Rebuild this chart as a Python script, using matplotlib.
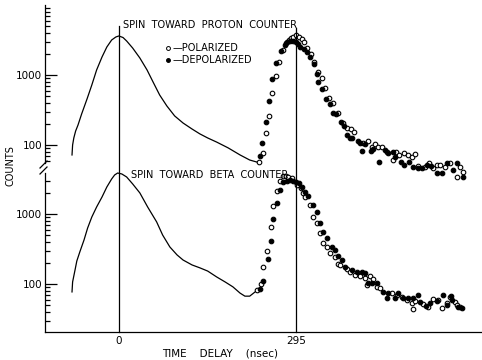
import matplotlib.pyplot as plt
from matplotlib.lines import Line2D

# time axis (nsec) and counts

# smooth prompt curves, left side
curve_t_top = [-78, -77, -75, -72, -68, -62, -53, -45, -37, -28, -20, -12, -5, 0, 7, 13,
               23, 35, 47, 57, 68, 80, 93, 107, 122, 135, 148, 163, 182, 202, 218, 230]
curve_top = [72, 100, 126, 158, 193, 277, 454, 720, 1180, 1810, 2510, 3160, 3490, 3610, 3430, 3060,
             2430, 1750, 1180, 795, 518, 361, 260, 206, 169, 144, 126, 110, 91, 72, 61, 57]

curve_t_bot = [-78, -77, -73, -70, -65, -58, -52, -45, -37, -28, -20, -12, -7, -2, 5, 13, 23,
               35, 48, 63, 73, 85, 97, 107, 122, 135, 148, 163, 177, 190, 202, 210, 218, 227]
curve_bot = [77, 107, 158, 213, 287, 425, 630, 906, 1260, 1750, 2430, 3160, 3610, 3850, 3730, 3380, 2690,
             2000, 1260, 770, 500, 338, 260, 220, 187, 170, 153, 126, 107, 91, 74, 67, 67, 77]

# spin toward proton counter
pol_t_top = [233, 240, 245, 250, 255, 262, 267, 273, 278, 283, 287, 290, 295, 300, 305, 308,
             313, 320, 325, 332, 338, 343, 350, 357, 365, 373, 380, 387, 392, 407, 415, 422,
             427, 432, 438, 447, 457, 462, 467, 475, 482, 488, 493, 498, 510, 517, 523, 530,
             535, 543, 552, 563, 568, 573]
pol_top = [58, 77, 148, 260, 553, 968, 1530, 2280, 2870, 3160, 3380, 3490, 3730, 3490, 3270, 2960,
           2430, 2000, 1530, 1100, 906, 652, 469, 398, 287, 206, 175, 169, 153, 107, 114, 94,
           103, 94, 94, 79, 61, 79, 72, 77, 72, 67, 74, 50, 49, 55, 47, 52,
           52, 49, 55, 35, 49, 41]

dep_t_top = [235, 238, 245, 250, 255, 262, 270, 277, 280, 285, 290, 295, 298, 302, 308, 313,
             318, 325, 330, 332, 338, 345, 352, 357, 362, 370, 375, 380, 385, 388, 398, 402,
             405, 410, 420, 423, 433, 443, 448, 457, 460, 470, 475, 483, 490, 498, 505, 513,
             520, 530, 538, 547, 557, 563, 573]
dep_top = [70, 107, 213, 425, 877, 1480, 2200, 2680, 2960, 3060, 3060, 2960, 2770, 2510, 2350, 2130,
           1810, 1440, 1030, 795, 631, 454, 385, 287, 277, 213, 187, 139, 126, 126, 114, 107,
           82, 103, 82, 88, 57, 85, 77, 79, 67, 57, 52, 57, 49, 47, 47, 52,
           50, 40, 40, 55, 44, 55, 35]

# spin toward beta counter
pol_t_bot = [230, 237, 240, 247, 253, 257, 263, 268, 273, 278, 282, 288, 297, 303, 307, 310,
             318, 323, 330, 335, 340, 347, 352, 360, 365, 368, 380, 385, 393, 402, 410, 413,
             418, 423, 430, 435, 455, 463, 472, 480, 488, 490, 493, 507, 515, 523, 532, 538,
             547, 552, 560, 563, 568]
pol_bot = [82, 100, 175, 296, 652, 1300, 2130, 2960, 3490, 3490, 3380, 3270, 2600, 2350, 2000, 1750,
           1340, 906, 744, 535, 385, 338, 277, 243, 193, 187, 164, 148, 134, 130, 122, 97,
           130, 118, 91, 88, 74, 70, 65, 59, 54, 44, 57, 52, 47, 61, 59, 45,
           54, 65, 55, 50, 47]

dep_t_bot = [235, 240, 248, 253, 257, 263, 268, 273, 280, 285, 290, 295, 300, 305, 310, 315,
             323, 330, 335, 340, 347, 355, 360, 365, 372, 377, 388, 397, 405, 410, 415, 422,
             430, 440, 447, 448, 460, 465, 473, 482, 490, 498, 502, 512, 518, 530, 540, 547,
             553, 555, 565, 572]
dep_bot = [85, 110, 228, 411, 849, 1440, 2200, 2870, 2960, 3060, 2960, 2870, 2770, 2430, 2060, 1810,
           1340, 1070, 744, 553, 454, 338, 306, 251, 220, 175, 158, 148, 148, 144, 103, 103,
           103, 77, 63, 74, 63, 74, 63, 63, 63, 70, 55, 49, 54, 57, 70, 50,
           67, 59, 47, 45]

W, H = 482, 360
fig = plt.figure(figsize=(W / 100, H / 100), dpi=100)
ax_top = fig.add_axes([45 / W, 1 - 180 / H, 437 / W, 175 / H])
ax_bot = fig.add_axes([45 / W, 1 - 332 / H, 437 / W, 167 / H])

lw = 0.9
for ax in (ax_top, ax_bot):
    ax.patch.set_visible(False)
    ax.set_yscale('log')
    ax.set_xlim(-123, 605)
    ax.spines['top'].set_visible(False)
    ax.spines['right'].set_visible(False)
    ax.spines['left'].set_linewidth(lw)
    ax.spines['bottom'].set_linewidth(lw)
    ax.set_yticks([100, 1000])
    ax.set_yticklabels(['100', '1000'])
    ax.tick_params(axis='y', which='major', direction='in', length=8.6, width=lw,
                   labelsize=7.5, pad=2)
    ax.tick_params(axis='y', which='minor', direction='in', length=3.6, width=lw)

ax_top.set_ylim(31.6, 10000)
ax_top.spines['left'].set_bounds(55, 10000)
ax_top.spines['bottom'].set_visible(False)
ax_top.set_yticks([60, 70, 80, 90, 200, 300, 400, 500, 600, 700, 800, 900,
                   2000, 3000, 4000, 5000, 6000, 7000, 8000, 9000], minor=True)
ax_top.set_yticklabels([], minor=True)
ax_top.set_xticks([])

ax_bot.set_ylim(20.6, 5012)
ax_bot.spines['left'].set_bounds(20.6, 3900)
ax_bot.set_yticks([30, 40, 50, 60, 70, 80, 90, 200, 300, 400, 500, 600, 700, 800, 900,
                   2000, 3000], minor=True)
ax_bot.set_yticklabels([], minor=True)
ax_bot.set_xticks([0, 295])
ax_bot.set_xticklabels(['0', '295'])
ax_bot.tick_params(axis='x', length=0, labelsize=7.5, pad=3)

# curves
ax_top.plot(curve_t_top, curve_top, color='k', lw=lw, clip_on=False, solid_joinstyle='round')
ax_bot.plot(curve_t_bot, curve_bot, color='k', lw=lw, clip_on=False, solid_joinstyle='round')

# data points
ms, mew = 3.3, 0.8
ax_top.plot(pol_t_top, pol_top, 'o', ms=ms, mfc='white', mec='k', mew=mew, ls='none', clip_on=False)
ax_top.plot(dep_t_top, dep_top, 'o', ms=ms, mfc='k', mec='k', mew=mew, ls='none', clip_on=False)
ax_bot.plot(pol_t_bot, pol_bot, 'o', ms=ms, mfc='white', mec='k', mew=mew, ls='none', clip_on=False)
ax_bot.plot(dep_t_bot, dep_bot, 'o', ms=ms, mfc='k', mec='k', mew=mew, ls='none', clip_on=False)

# markers at t = 0 and 295 nsec, running through both panels
ax_bot.axvline(0, 0, (332 - 26) / 167, color='k', lw=lw, clip_on=False)
ax_bot.axvline(295, 0, (332 - 28) / 167, color='k', lw=lw, clip_on=False)

# axis break on the left spine
for y0 in (168, 174):
    fig.add_artist(Line2D([40 / W, 47 / W], [1 - y0 / H, 1 - (y0 - 7) / H],
                          color='k', lw=lw, transform=fig.transFigure))

# labels
fs = 7
fig.text(123 / W, 1 - 25 / H, 'SPIN  TOWARD  PROTON  COUNTER', fontsize=fs, va='center')
fig.text(131 / W, 1 - 175 / H, 'SPIN  TOWARD  BETA  COUNTER', fontsize=fs, va='center')

fig.add_artist(Line2D([168 / W], [1 - 48 / H], marker='o', ms=2.8, mfc='white', mec='k',
                      mew=0.7, transform=fig.transFigure))
fig.add_artist(Line2D([168 / W], [1 - 60 / H], marker='o', ms=2.8, mfc='k', mec='k',
                      mew=0.7, transform=fig.transFigure))
fig.text(173 / W, 1 - 48 / H, '\u2014POLARIZED', fontsize=fs, va='center')
fig.text(173 / W, 1 - 60 / H, '\u2014DEPOLARIZED', fontsize=fs, va='center')

fig.text(220 / W, 1 - 353 / H, 'TIME    DELAY    (nsec)', fontsize=7.5, ha='center', va='center')
fig.text(10 / W, 1 - 166 / H, 'COUNTS', fontsize=fs, rotation=90, ha='center', va='center')

fig.savefig('out.png', dpi=100)
